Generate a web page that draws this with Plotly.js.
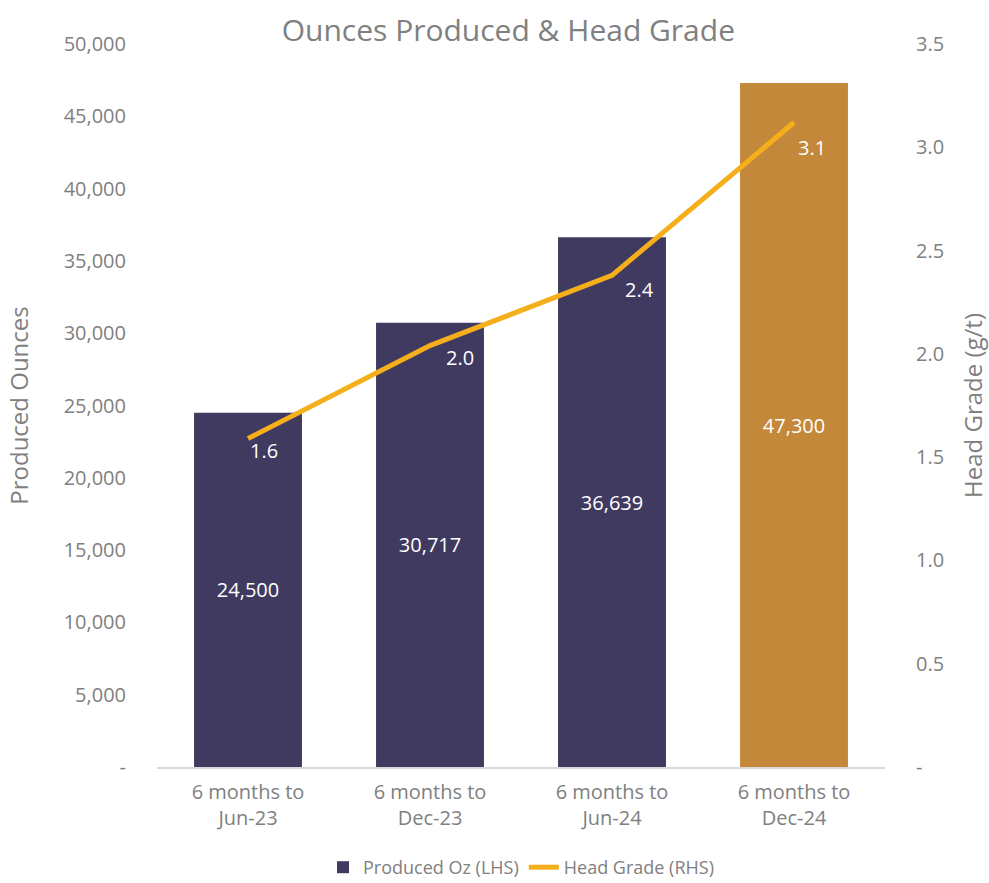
<!DOCTYPE html>
<html>
<head>
<meta charset="utf-8">
<script src="https://cdn.plot.ly/plotly-3.0.1.min.js"></script>
<style>html,body{margin:0;padding:0;background:#fff}#chart{width:989px;height:883px}</style>
</head>
<body>
<div id="chart"></div>
<script>
const categories = ["6 months to<br>Jun-23", "6 months to<br>Dec-23", "6 months to<br>Jun-24", "6 months to<br>Dec-24"];
const producedOz = [24500, 30717, 36639, 47300];
const producedLabels = ["24,500", "30,717", "36,639", "47,300"];
const headGrade = [1.59, 2.04, 2.38, 3.12];
const headGradeLabels = ["1.6", "2.0", "2.4", "3.1"];
const leftTickVals = [0, 5000, 10000, 15000, 20000, 25000, 30000, 35000, 40000, 45000, 50000];
const leftTickText = ["-", "5,000", "10,000", "15,000", "20,000", "25,000", "30,000", "35,000", "40,000", "45,000", "50,000"];
const rightTickVals = [0, 0.5, 1.0, 1.5, 2.0, 2.5, 3.0, 3.5];
const rightTickText = ["-", "0.5", "1.0", "1.5", "2.0", "2.5", "3.0", "3.5"];

const FONT = "'Open Sans', Roboto, sans-serif";
const GREY = "#808080";
const barColors = ["#403A60", "#403A60", "#403A60", "#C4883A"];
// label offsets (px) for the head grade value labels
const gradeLabelShiftX = [0, 14, 11, 2];
const gradeLabelShiftY = [-12, -12, -14, -25];

const traces = [
  {
    type: "bar",
    name: "Produced Oz (LHS)",
    x: categories,
    y: producedOz,
    text: producedLabels,
    textposition: "inside",
    insidetextanchor: "middle",
    textangle: 0,
    constraintext: "none",
    textfont: {family: FONT, size: 20, color: "#ffffff"},
    marker: {color: barColors, line: {width: 0}},
    hoverinfo: "none",
    yaxis: "y"
  },
  {
    type: "scatter",
    mode: "lines",
    name: "Head Grade (RHS)",
    x: categories,
    y: headGrade,
    line: {color: "#F5AF1B", width: 5},
    cliponaxis: false,
    hoverinfo: "none",
    yaxis: "y2"
  }
];

const annotations = headGrade.map((v, i) => ({
  x: categories[i],
  y: v,
  xref: "x",
  yref: "y2",
  text: headGradeLabels[i],
  showarrow: false,
  xanchor: "left",
  yanchor: "middle",
  xshift: gradeLabelShiftX[i],
  yshift: gradeLabelShiftY[i],
  font: {family: FONT, size: 20, color: "#ffffff"}
}));

const layout = {
  width: 989,
  height: 883,
  autosize: false,
  margin: {l: 157, r: 104, t: 44, b: 116, autoexpand: false},
  paper_bgcolor: "#ffffff",
  plot_bgcolor: "#ffffff",
  font: {family: FONT, color: GREY, size: 20},
  title: {
    text: "Ounces Produced &amp; Head Grade",
    font: {family: FONT, size: 30, color: GREY},
    x: 0.514, xanchor: "center",
    y: 0.966, yanchor: "middle"
  },
  annotations: annotations,
  bargap: 0.407,
  showlegend: true,
  legend: {
    orientation: "h",
    x: 0.5, xanchor: "center",
    y: -0.139, yanchor: "middle",
    font: {family: FONT, size: 18, color: GREY},
    traceorder: "normal",
    tracegroupgap: 0
  },
  xaxis: {
    type: "category",
    automargin: false,
    showline: true,
    linecolor: "#d9d9d9",
    linewidth: 2,
    showgrid: false,
    zeroline: false,
    ticks: "outside",
    ticklen: 6,
    tickcolor: "rgba(0,0,0,0)",
    tickangle: 0,
    tickfont: {family: FONT, size: 20, color: GREY},
    fixedrange: true
  },
  yaxis: {
    automargin: false,
    range: [0, 50000],
    tickvals: leftTickVals,
    ticktext: leftTickText,
    showgrid: false,
    zeroline: false,
    showline: false,
    ticks: "outside",
    ticklen: 26,
    tickcolor: "rgba(0,0,0,0)",
    tickfont: {family: FONT, size: 20, color: GREY},
    title: {text: "Produced Ounces", font: {family: FONT, size: 24, color: GREY}, standoff: 28},
    fixedrange: true
  },
  yaxis2: {
    automargin: false,
    overlaying: "y",
    side: "right",
    range: [0, 3.5],
    tickvals: rightTickVals,
    ticktext: rightTickText,
    showgrid: false,
    zeroline: false,
    showline: false,
    ticks: "outside",
    ticklen: 26,
    tickcolor: "rgba(0,0,0,0)",
    tickfont: {family: FONT, size: 20, color: GREY},
    title: {text: "Head Grade (g/t)", font: {family: FONT, size: 24, color: GREY}, standoff: 32},
    fixedrange: true
  }
};

Plotly.newPlot("chart", traces, layout, {displayModeBar: false, staticPlot: true});
</script>
</body>
</html>
